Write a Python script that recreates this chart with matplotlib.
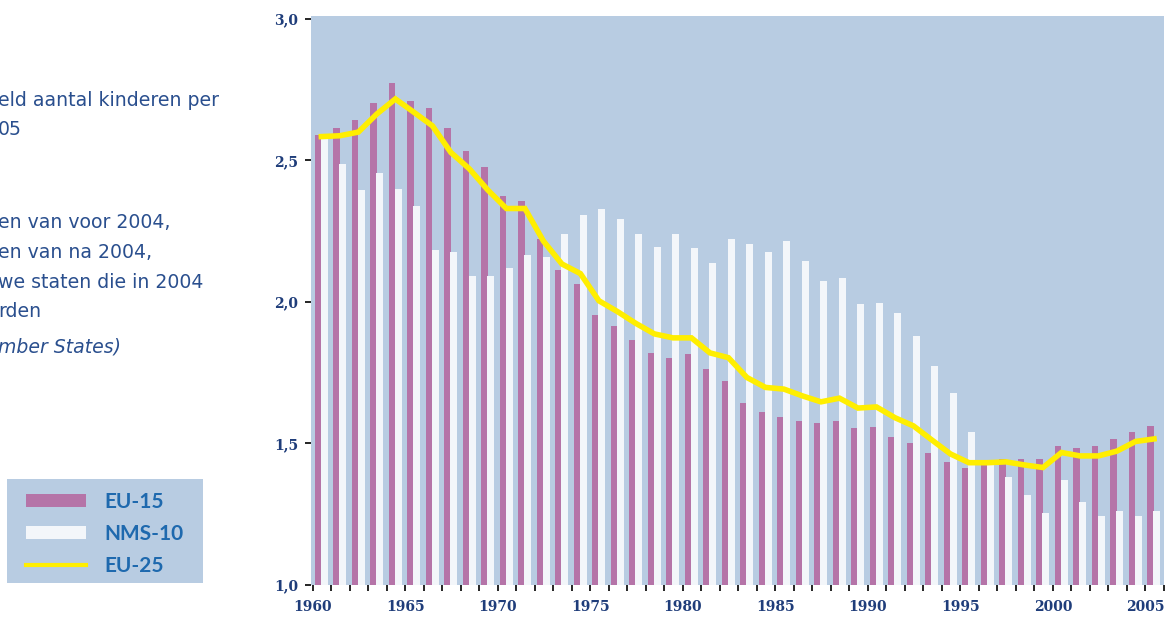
import numpy as np
import matplotlib
matplotlib.use("Agg")
import matplotlib.pyplot as plt
from matplotlib.patches import Rectangle, Patch
from matplotlib.lines import Line2D

years = list(range(1960, 2006))

eu15 = [2.59, 2.615, 2.643, 2.703, 2.774, 2.710, 2.686, 2.615, 2.534, 2.477,
        2.375, 2.357, 2.223, 2.113, 2.064, 1.954, 1.915, 1.866, 1.820, 1.802,
        1.816, 1.763, 1.721, 1.643, 1.611, 1.594, 1.580, 1.572, 1.580, 1.555,
        1.558, 1.523, 1.502, 1.466, 1.435, 1.413, 1.430, 1.445, 1.445, 1.445,
        1.491, 1.484, 1.491, 1.516, 1.541, 1.562]

nms10 = [2.576, 2.488, 2.396, 2.456, 2.399, 2.339, 2.184, 2.177, 2.092, 2.092,
         2.120, 2.166, 2.159, 2.240, 2.307, 2.329, 2.293, 2.240, 2.194, 2.240,
         2.191, 2.138, 2.223, 2.205, 2.177, 2.216, 2.145, 2.074, 2.085, 1.993,
         1.996, 1.961, 1.880, 1.774, 1.678, 1.541, 1.432, 1.382, 1.318, 1.254,
         1.371, 1.293, 1.244, 1.261, 1.244, 1.261]

eu25 = [2.584, 2.587, 2.600, 2.664, 2.717, 2.670, 2.622, 2.528, 2.470, 2.395,
        2.330, 2.330, 2.215, 2.134, 2.100, 2.004, 1.966, 1.924, 1.887, 1.873,
        1.873, 1.820, 1.803, 1.733, 1.698, 1.692, 1.668, 1.647, 1.660, 1.625,
        1.629, 1.591, 1.562, 1.512, 1.463, 1.432, 1.432, 1.435, 1.424, 1.415,
        1.468, 1.456, 1.456, 1.473, 1.507, 1.516]

bg = "#B8CCE2"
pink = "#B574A8"
white = "#F3F6FA"
yellow = "#FFEE00"
tick_col = "#1F3D7A"
text_col = "#2A4F8E"
leg_col = "#1E69AE"

fig = plt.figure(figsize=(11.68, 6.17), dpi=100)
ax = fig.add_axes([311 / 1168, 1 - 585 / 617, (1164 - 311) / 1168, (585 - 16) / 617])
ax.set_facecolor(bg)

x = np.arange(len(years))
ax.bar(x + 0.27, eu15, width=0.36, bottom=0, color=pink, zorder=2)
ax.bar(x + 0.62, nms10, width=0.38, bottom=0, color=white, zorder=2)
ax.plot(x + 0.46, eu25, color=yellow, lw=4, zorder=3, solid_joinstyle="miter")

ax.set_xlim(-0.1, 46.0)
ax.set_ylim(1.0, 3.01)
for s in ax.spines.values():
    s.set_visible(False)

ax.set_yticks([1.0, 1.5, 2.0, 2.5, 3.0])
ax.set_yticklabels(["1,0", "1,5", "2,0", "2,5", "3,0"])
ax.set_xticks(np.arange(0, 46, 5))
ax.set_xticklabels([str(y) for y in years[::5]])
ax.set_xticks(np.arange(0, 47, 1), minor=True)
ax.tick_params(axis="y", direction="out", length=4, width=1.2, color="black", pad=5,
               labelsize=10, labelcolor=tick_col)
ax.tick_params(axis="x", which="both", direction="out", length=4, width=1.2, color="black",
               pad=7, labelsize=10, labelcolor=tick_col)
for lab in ax.get_xticklabels() + ax.get_yticklabels():
    lab.set_fontweight("bold")
    lab.set_family("DejaVu Serif")

# left-side text (cropped in the reference)
lines = [
    (100, "eld aantal kinderen per", "normal"),
    (130, "05", "normal"),
    (223, "en van voor 2004,", "normal"),
    (252, "en van na 2004,", "normal"),
    (282, "we staten die in 2004", "normal"),
    (312, "rden", "normal"),
    (347, "mber States)", "italic"),
]
for yy, s, st in lines:
    fig.text(-2 / 1168, 1 - yy / 617, s, ha="left", va="center", fontsize=13.6,
             color=text_col, family="DejaVu Sans", style=st)

# legend box
fig.patches.append(Rectangle((7 / 1168, 1 - 583 / 617), 196 / 1168, 104 / 617,
                             transform=fig.transFigure, facecolor=bg, edgecolor="none"))
handles = [Patch(facecolor=pink, edgecolor="none"),
           Patch(facecolor=white, edgecolor="none"),
           Line2D([], [], color=yellow, lw=3)]
leg = fig.legend(handles, ["EU-15", "NMS-10", "EU-25"], loc="upper left",
                 bbox_to_anchor=(7 / 1168, 1 - 473 / 617), frameon=False,
                 handlelength=2.9, handleheight=0.58, handletextpad=0.85,
                 labelspacing=0.58, prop={"family": "Lato", "weight": "bold", "size": 15})
for t in leg.get_texts():
    t.set_color(leg_col)

fig.savefig("out.png", dpi=100)
